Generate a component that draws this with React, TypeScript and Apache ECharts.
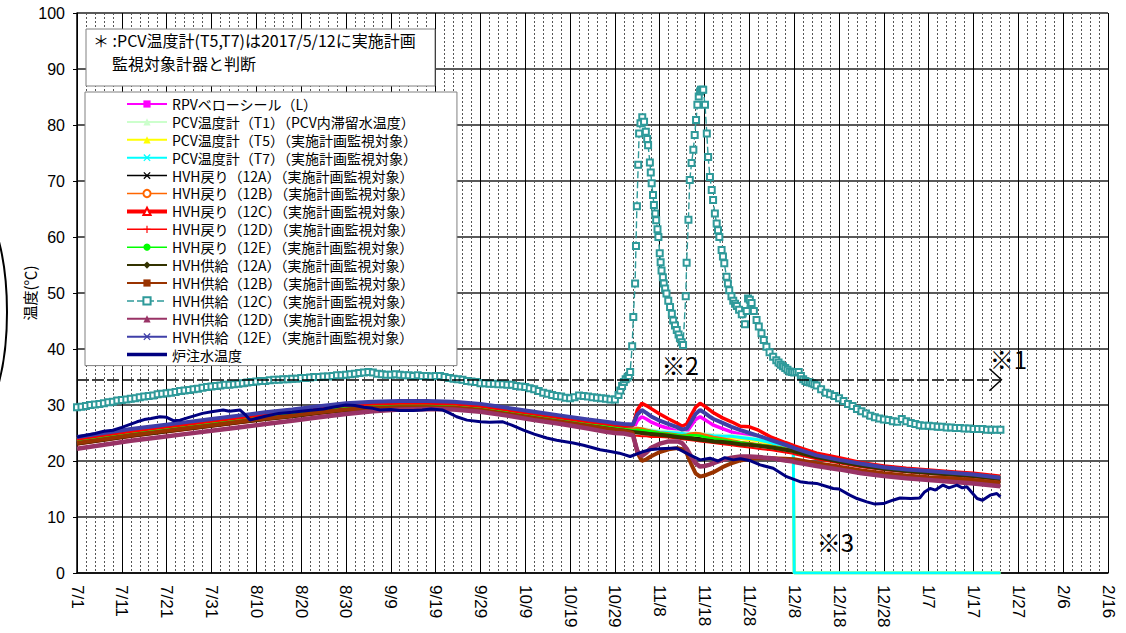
import React, { useEffect, useRef } from "react";
import * as echarts from "echarts";

// x axis = days since 2017/7/1
const dateLabels = ["7/1","7/11","7/21","7/31","8/10","8/20","8/30","9/9","9/19","9/29","10/9","10/19","10/29","11/8","11/18","11/28","12/8","12/18","12/28","1/7","1/17","1/27","2/6","2/16"];
const yTicks = [0, 10, 20, 30, 40, 50, 60, 70, 80, 90, 100];

const days = [0,6,12,18,24,30,36,42,48,54,60,66,72,78,84,90,96,102,108,114,118,120,122,124,125,126,127,128,130,132,134,135,136,137,138,139,140,141,142,144,146,148,150,152,155,158,159.8,160,165,170,175,180,185,190,195,200,206];

const rpvBellows = [23.3,24.0,24.7,25.3,25.9,26.5,27.1,27.7,28.2,28.8,29.3,29.6,29.7,29.7,29.6,29.2,28.5,27.8,27.1,26.4,
  26.0,25.8,25.6,25.5,27.2,27.9,27.5,27.0,
  26.3,25.8,25.3,25.0,25.2,26.3,27.4,27.9,27.4,26.9,
  26.4,25.8,25.2,24.8,24.4,24.0,23.3,22.6,22.2,22.1,
  20.9,20.0,19.2,18.6,18.2,17.9,17.6,17.3,16.8];
const pcvT1 = [24.0,24.7,25.4,26.0,26.6,27.2,27.8,28.4,28.9,29.5,30.0,30.3,30.4,30.4,30.3,29.9,29.2,28.5,27.8,27.1,
  26.7,26.5,26.3,26.0,25.9,25.8,25.7,25.6,
  25.4,25.3,25.2,25.1,25.0,25.0,24.9,24.9,24.8,24.8,
  24.7,24.6,24.6,24.4,24.2,24.0,23.4,22.5,22.0,0,
  0,0,0,0,0,0,0,0,0];
const pcvT5 = [23.6,24.3,25.0,25.6,26.2,26.8,27.4,28.0,28.5,29.1,29.6,29.9,30.0,30.0,29.9,29.5,28.8,28.1,27.4,26.7,
  26.3,26.1,25.9,25.6,25.5,25.4,25.3,25.2,
  25.0,24.9,24.8,24.7,24.6,24.6,24.5,24.5,24.4,24.4,
  24.3,24.2,24.2,24.0,23.8,23.6,23.0,22.1,21.6,0,
  0,0,0,0,0,0,0,0,0];
const pcvT7 = [23.8,24.5,25.2,25.8,26.4,27.0,27.6,28.2,28.7,29.3,29.8,30.1,30.2,30.2,30.1,29.7,29.0,28.3,27.6,26.9,
  26.5,26.3,26.1,25.8,25.7,25.6,25.5,25.4,
  25.2,25.1,25.0,24.9,24.8,24.8,24.7,24.7,24.6,24.6,
  24.5,24.4,24.4,24.2,24.0,23.8,23.2,22.3,21.8,0,
  0,0,0,0,0,0,0,0,0];
const hvhRet12A = [23.3,24.0,24.7,25.3,25.9,26.5,27.1,27.7,28.2,28.8,29.3,29.6,29.7,29.7,29.6,29.2,28.5,27.8,27.1,26.4,
  26.0,25.8,25.6,25.4,25.3,25.2,25.1,25.0,
  24.9,24.7,24.5,24.4,24.3,24.2,24.1,24.0,23.9,23.8,
  23.7,23.6,23.4,23.2,23.1,22.9,22.6,22.2,22.0,21.9,
  20.9,20.1,19.4,18.8,18.4,18.1,17.8,17.5,17.0];
const hvhRet12B = [23.5,24.2,24.9,25.5,26.1,26.7,27.3,27.9,28.4,29.0,29.5,29.8,29.9,29.9,29.8,29.4,28.7,28.0,27.3,26.6,
  26.2,26.0,25.8,25.7,25.9,25.8,25.6,25.4,
  25.1,24.9,24.7,24.6,24.7,24.9,25.0,24.9,24.7,24.5,
  24.3,24.0,23.7,23.4,23.2,23.0,22.7,22.3,22.1,22.0,
  21.0,20.2,19.5,18.9,18.5,18.2,17.9,17.6,17.1];
const hvhRet12C = [23.9,24.6,25.3,25.9,26.5,27.1,27.7,28.3,28.8,29.4,29.9,30.2,30.3,30.3,30.2,29.8,29.1,28.4,27.7,27.0,
  26.6,26.4,26.2,26.3,29.1,30.3,29.9,29.4,
  28.4,27.5,26.7,26.2,26.6,28.2,29.6,30.3,29.8,29.2,
  28.6,27.7,27.0,26.2,26.1,25.5,24.2,23.3,22.8,22.7,
  21.4,20.6,19.7,19.1,18.7,18.4,18.1,17.8,17.3];
const hvhRet12D = [22.9,23.6,24.3,24.9,25.5,26.1,26.7,27.3,27.8,28.4,28.9,29.2,29.3,29.3,29.2,28.8,28.1,27.4,26.7,26.0,
  25.5,25.2,24.9,24.5,24.5,24.4,24.4,24.3,
  24.3,24.2,24.0,23.9,23.8,23.7,23.6,23.5,23.4,23.3,
  23.2,23.0,22.8,22.6,22.4,22.2,21.9,21.5,21.3,21.2,
  20.3,19.6,18.9,18.4,18.0,17.7,17.4,17.1,16.6];
const hvhRet12E = [23.4,24.1,24.8,25.4,26.0,26.6,27.2,27.8,28.3,28.9,29.4,29.7,29.8,29.8,29.7,29.3,28.6,27.9,27.2,26.5,
  26.1,25.9,25.7,25.5,25.6,25.5,25.4,25.3,
  25.0,24.8,24.6,24.5,24.5,24.6,24.6,24.5,24.3,24.1,
  24.0,23.8,23.5,23.3,23.1,22.9,22.6,22.2,22.0,21.9,
  21.0,20.2,19.5,18.9,18.5,18.2,17.9,17.6,17.1];
const hvhSup12A = [23.1,23.8,24.5,25.1,25.7,26.3,26.9,27.5,28.0,28.6,29.1,29.4,29.5,29.5,29.4,29.0,28.3,27.6,26.9,26.2,
  25.8,25.6,25.4,25.2,25.1,25.0,24.9,24.8,
  24.7,24.5,24.3,24.2,24.1,24.0,23.9,23.8,23.7,23.6,
  23.5,23.4,23.2,23.0,22.9,22.7,22.4,22.0,21.8,21.7,
  20.7,19.9,19.2,18.6,18.2,17.9,17.6,17.3,16.8];
const hvhSup12B = [23.2,23.9,24.6,25.2,25.8,26.4,27.0,27.6,28.1,28.7,29.2,29.5,29.6,29.6,29.5,29.1,28.4,27.7,27.0,26.3,
  25.8,25.6,25.4,25.0,21.5,20.0,20.3,20.8,
  21.6,22.1,22.3,22.1,21.4,19.5,17.8,17.2,17.4,17.7,
  18.0,18.9,19.6,20.1,20.4,20.5,20.5,20.4,20.3,20.3,
  19.6,19.0,18.3,17.8,17.4,17.1,16.9,16.6,16.1];
const hvhSup12D = [22.2,22.9,23.6,24.2,24.8,25.4,26.0,26.6,27.2,27.8,28.4,28.9,29.2,29.3,29.2,28.8,28.1,27.3,26.6,25.8,
  25.2,25.0,24.9,24.6,21.8,20.9,21.5,22.3,
  23.1,23.5,23.5,23.2,22.2,20.8,19.6,19.0,19.1,19.3,
  19.6,20.2,20.6,20.8,20.8,20.7,20.5,20.1,19.9,19.8,
  19.1,18.5,17.8,17.3,16.9,16.6,16.3,16.0,15.5];
const hvhSup12E = [24.3,25.0,25.7,26.3,26.9,27.5,28.1,28.7,29.2,29.8,30.3,30.6,30.7,30.7,30.6,30.2,29.5,28.8,28.1,27.4,
  27.0,26.8,26.6,26.5,28.3,29.1,28.6,28.0,
  27.2,26.6,26.0,25.6,25.8,27.0,28.4,29.1,28.6,28.0,
  27.5,26.8,26.1,25.5,25.0,24.5,23.7,22.9,22.4,22.3,
  21.0,20.2,19.5,18.9,18.5,18.2,17.9,17.6,17.0];

// HVH供給(12C): [day, value]
const hvhSup12C: number[][] = [
  [0,29.6],[1,29.7],[2,29.8],[3,30.0],[4,30.1],[5,30.2],[6,30.3],[7,30.5],[8,30.6],[9,30.8],
  [10,30.9],[11,31.0],[12,31.1],[13,31.2],[14,31.4],[15,31.5],[16,31.6],[17,31.7],[18,31.9],[19,32.0],
  [20,32.1],[21,32.2],[22,32.3],[23,32.5],[24,32.6],[25,32.7],[26,32.8],[27,32.9],[28,33.1],[29,33.2],
  [30,33.3],[31,33.4],[32,33.5],[33,33.6],[34,33.6],[35,33.7],[36,33.8],[37,33.9],[38,34.0],[39,34.1],
  [40,34.2],[41,34.3],[42,34.3],[43,34.4],[44,34.5],[45,34.5],[46,34.6],[47,34.6],[48,34.7],[49,34.7],
  [50,34.8],[51,34.8],[52,34.9],[53,35.0],[54,35.0],[55,35.1],[56,35.1],[57,35.2],[58,35.3],[59,35.3],
  [60,35.4],[61,35.5],[62,35.6],[63,35.7],[64,35.8],[65,35.9],[66,35.8],[67,35.6],[68,35.5],[69,35.4],
  [70,35.4],[71,35.5],[72,35.4],[73,35.3],[74,35.3],[75,35.2],[76,35.3],[77,35.2],[78,35.2],[79,35.1],
  [80,35.2],[81,35.2],[82,35.0],[83,34.8],[84,34.7],[85,34.6],[86,34.5],[87,34.3],[88,34.2],[89,34.1],
  [90,33.9],[91,33.9],[92,33.8],[93,33.8],[94,33.7],[95,33.7],[96,33.6],[97,33.6],[98,33.4],[99,33.3],
  [100,33.2],[101,33.0],[102,32.8],[103,32.5],[104,32.2],[105,32.0],[106,31.8],[107,31.6],[108,31.5],[109,31.3],
  [110,31.2],[111,31.4],[112,31.7],[113,31.6],[114,31.5],[115,31.4],[116,31.3],[117,31.2],[118,31.1],[119,31.0],
  [120,31.0],[120.8,31.8],[121.2,32.6],[121.6,33.4],[122,34.1],[122.4,34.6],[122.8,34.9],[123.1,35.2],[123.4,35.9],
  [123.85,40.5],[124.1,45.7],[124.5,51.7],[124.7,58.4],[124.9,65.5],[125.2,72.9],[125.4,78.5],[125.7,80.3],[126.1,81.4],
  [126.5,80.6],[126.9,78.8],[127.2,77.5],[127.4,76.4],[127.8,73.3],[128.0,71.5],[128.2,69.6],[128.5,67.5],[128.7,65.7],[129.0,64.2],[129.2,63.0],[129.5,61.4],[129.7,60.0],[130,57.1],
  [130.2,55.5],[130.4,54.0],[130.7,52.8],[130.9,51.7],[131.2,50.8],[131.5,49.9],[131.9,48.6],[132.3,47.5],[132.7,46.3],[133,45.1],[133.4,44.2],[133.8,43.4],[134.2,42.6],[134.5,41.9],[134.9,41.2],[135.2,40.7],
  [135.8,49.4],[136,55.4],[136.4,63.1],[136.7,70.2],[137.1,73.2],[137.5,75.6],[137.8,78.2],[138.1,80.9],[138.4,83.6],
  [138.7,85.1],[139.0,86.0],[139.2,86.3],[139.5,86.3],[139.7,86.3],[140.1,83.6],[140.5,78.5],[140.8,74.3],[141.2,70.7],[141.6,68.4],[141.9,66.6],
  [142.3,64.2],[142.7,62.4],[143.0,61.2],[143.3,60.0],[143.8,57.7],[144.1,56.5],[144.4,55.3],[144.9,52.9],[145.2,51.7],[145.5,50.5],[146.0,49.4],[146.4,48.6],[146.8,48.1],[147.2,47.7],[147.7,47.0],
  [148.3,46.2],[149,44.4],[149.4,46.8],[149.7,49.0],[150.1,48.8],[150.5,48.2],[151.0,46.8],[151.6,45.2],[152.1,44.0],[152.7,42.8],[153.2,41.6],[153.8,40.4],[154.5,39.4],[155.3,38.6],
  [156,38.0],[156.5,37.6],[157,37.2],[157.5,36.9],[158,36.6],[158.5,36.3],[159,36.0],[159.5,35.9],[160,35.8],[160.5,35.9],[161,35.9],[161.5,35.2],[162,34.6],[162.5,34.3],[163,34.1],[163.5,34.0],[164,33.9],[164.5,33.7],[165,33.5],
  [166,32.8],[167,32.2],[168,31.9],[169,31.6],[170,31.2],[171,30.7],[172,30.2],[173,29.8],[174,29.3],[175,28.9],
  [176,28.5],[177,28.1],[178,27.8],[179,27.6],[180,27.4],[181,27.3],[182,27.1],[183,27.0],[184,27.5],[185,27.1],
  [186,26.8],[187,26.6],[188,26.4],[189,26.3],[190,26.3],[191,26.2],[192,26.1],[193,26.1],[194,26.0],[195,26.0],
  [196,25.9],[197,25.9],[198,25.8],[199,25.8],[200,25.7],[201,25.7],[202,25.7],[203,25.6],[204,25.6],[205,25.6],[206,25.6]
];

// 炉注水温度: [day, value]
const injectionWater: number[][] = [
  [0,24.3],[2,24.6],[4,24.9],[6,25.3],[8,25.5],[10,26.0],[12,26.6],[13.4,27.0],[15,27.4],[16.5,27.6],
  [18.5,27.9],[20,27.8],[21.5,27.2],[23,27.3],[25,27.8],[28,28.5],[30,28.8],[32.6,29.1],[34,28.9],[36.4,29.1],
  [37.5,28.3],[38.6,27.3],[40,27.6],[42,28.0],[45,28.5],[48,28.7],[50,28.9],[52.7,29.1],[55,29.3],[57,29.6],
  [60,30.0],[62,29.9],[64,29.6],[66,29.4],[67.6,29.1],[70,29.2],[72,29.0],[75,29.0],[77,29.1],[79,29.3],
  [81.6,29.1],[83,28.6],[84.7,27.9],[87,27.3],[90,27.0],[92,26.9],[95,27.0],[97,26.4],[99.6,25.5],[102,24.8],
  [104.8,24.1],[107,23.7],[110.7,23.2],[113,22.8],[116.7,22.0],[119,21.7],[121,21.4],[123.4,20.8],[126,21.6],[127.8,22.0],
  [130,22.2],[133.8,22.3],[136.7,21.1],[139,20.2],[141.2,20.5],[143,20.0],[144.5,20.6],[146.4,20.2],[148,20.4],[150,20.1],
  [152.4,19.3],[155.3,18.7],[158.3,17.2],[161.3,16.3],[163,16.1],[165,16.0],[168.7,15.1],[170,15.0],[172.4,13.9],[174,13.3],
  [176.2,12.7],[178,12.3],[179.9,12.4],[182,13.0],[183.6,13.4],[186,13.3],[188,13.4],[189,14.4],[190.3,15.1],[191.5,14.8],
  [193.2,15.7],[194.5,15.2],[196.3,15.7],[197.5,15.2],[198.5,15.4],[200.8,13.3],[202,13.0],[203.7,13.9],[205.2,14.2],[206,13.6]
];

// ※1 reference level
const refLevel = 34.5;
const refEndDay = 206;

const annotations = [
  { label: "※1", day: 203.6, value: 40.4 },
  { label: "※2", day: 130.4, value: 39.4 },
  { label: "※3", day: 165.0, value: 7.8 },
];

const X_SYM = "path://M0,1.2 L1.2,0 L5,3.8 L8.8,0 L10,1.2 L6.2,5 L10,8.8 L8.8,10 L5,6.2 L1.2,10 L0,8.8 L3.8,5 Z";
const PLUS_SYM = "path://M4.2,0 L5.8,0 L5.8,4.2 L10,4.2 L10,5.8 L5.8,5.8 L5.8,10 L4.2,10 L4.2,5.8 L0,5.8 L0,4.2 L4.2,4.2 Z";

const JP = "'Noto Sans CJK JP', sans-serif";
const NUM = "'Liberation Sans', Arial, sans-serif";

type Def = { name: string; values: number[] | number[][]; color: string; symbol: string; width: number; legendWidth: number; dashed?: boolean; markers?: boolean };

const defs: Def[] = [
  { name: "RPVベローシール（L）", values: rpvBellows, color: "#ff00ff", symbol: "rect", width: 3.5, legendWidth: 2 },
  { name: "PCV温度計（T1）（PCV内滞留水温度）", values: pcvT1, color: "#ccffcc", symbol: "triangle", width: 3, legendWidth: 2 },
  { name: "PCV温度計（T5）（実施計画監視対象）", values: pcvT5, color: "#ffff00", symbol: "triangle", width: 3, legendWidth: 2 },
  { name: "PCV温度計（T7）（実施計画監視対象）", values: pcvT7, color: "#00ffff", symbol: X_SYM, width: 3, legendWidth: 2 },
  { name: "HVH戻り（12A）（実施計画監視対象）", values: hvhRet12A, color: "#000000", symbol: X_SYM, width: 2.5, legendWidth: 1.5 },
  { name: "HVH戻り（12B）（実施計画監視対象）", values: hvhRet12B, color: "#ff6600", symbol: "emptyCircle", width: 2.5, legendWidth: 1.5 },
  { name: "HVH戻り（12C）（実施計画監視対象）", values: hvhRet12C, color: "#ff0000", symbol: "emptyTriangle", width: 3.5, legendWidth: 4 },
  { name: "HVH戻り（12D）（実施計画監視対象）", values: hvhRet12D, color: "#ff0000", symbol: PLUS_SYM, width: 2, legendWidth: 1.5 },
  { name: "HVH戻り（12E）（実施計画監視対象）", values: hvhRet12E, color: "#00ff00", symbol: "circle", width: 2.5, legendWidth: 1.5 },
  { name: "HVH供給（12A）（実施計画監視対象）", values: hvhSup12A, color: "#333300", symbol: "diamond", width: 4, legendWidth: 2 },
  { name: "HVH供給（12B）（実施計画監視対象）", values: hvhSup12B, color: "#993300", symbol: "rect", width: 4, legendWidth: 2 },
  { name: "HVH供給（12C）（実施計画監視対象）", values: hvhSup12C, color: "#2f9a9a", symbol: "emptyRect", width: 1.4, legendWidth: 1.5, dashed: true, markers: true },
  { name: "HVH供給（12D）（実施計画監視対象）", values: hvhSup12D, color: "#993366", symbol: "triangle", width: 4.5, legendWidth: 2 },
  { name: "HVH供給（12E）（実施計画監視対象）", values: hvhSup12E, color: "#3f3fa8", symbol: X_SYM, width: 4, legendWidth: 2 },
  { name: "炉注水温度", values: injectionWater, color: "#000080", symbol: "circle", width: 3, legendWidth: 3.5 },
];

export default function App() {
  const ref = useRef<HTMLDivElement>(null);
  useEffect(() => {
    if (!ref.current) return;
    const chart = echarts.init(ref.current, null, { renderer: "svg" });

    const series: any[] = defs.map((d, idx) => {
      const data = Array.isArray(d.values[0])
        ? (d.values as number[][]).map((p) => [p[0], p[1]])
        : (d.values as number[]).map((v, i) => [days[i], v]);
      const s: any = {
        name: d.name,
        type: "line",
        data,
        symbol: d.symbol,
        symbolSize: 6,
        showSymbol: !!d.markers,
        showAllSymbol: true,
        silent: true,
        lineStyle: { color: d.color, width: d.width, type: d.dashed ? [7, 3] : "solid" },
        itemStyle: { color: d.color, borderWidth: 1.1 },
        emphasis: { disabled: true },
      };
      if (idx === defs.length - 1) {
        s.markLine = {
          silent: true,
          symbol: ["none", "none"],
          label: { show: false },
          emphasis: { disabled: true },
          lineStyle: { color: "#000", width: 1.5, type: [12, 3] },
          data: [[{ coord: [0, refLevel] }, { coord: [refEndDay, refLevel] }]],
        };
      }
      return s;
    });

    const option: any = {
      animation: false,
      backgroundColor: "#fff",
      grid: { left: 77, right: 18, top: 13, bottom: 60, containLabel: false },
      xAxis: {
        type: "value",
        min: 0,
        max: 230,
        interval: 10,
        axisLine: { show: true, onZero: false, lineStyle: { color: "#000", width: 1.5 } },
        axisTick: { show: false },
        minorTick: { show: false, splitNumber: 5 },
        splitLine: { show: true, lineStyle: { color: "#000", width: 1 } },
        minorSplitLine: { show: true, lineStyle: { color: "#555", width: 1, type: [2, 2] } },
        axisLabel: {
          rotate: -90,
          margin: 12,
          fontSize: 17,
          color: "#000",
          fontFamily: NUM,
          formatter: (v: number) => dateLabels[Math.round(v / 10)] ?? "",
        },
      },
      yAxis: {
        type: "value",
        min: yTicks[0],
        max: yTicks[yTicks.length - 1],
        interval: 10,
        name: "温度(℃)",
        nameLocation: "middle",
        nameRotate: 90,
        nameGap: 40,
        nameMoveOverlap: false,
        nameTextStyle: { fontSize: 15, fontFamily: JP, color: "#000" },
        axisLine: { show: true, lineStyle: { color: "#000", width: 1.5 } },
        axisTick: { show: true, length: 4, lineStyle: { color: "#000" } },
        splitLine: { show: true, lineStyle: { color: "#595959", width: 2 } },
        axisLabel: { fontSize: 16, color: "#000", fontFamily: NUM, margin: 12 },
      },
      legend: {
        orient: "vertical",
        left: 85,
        top: 92,
        itemWidth: 40,
        itemHeight: 9,
        itemGap: 3.9,
        padding: [5, 40, 4, 40],
        backgroundColor: "#fff",
        borderColor: "#808080",
        borderWidth: 1,
        selectedMode: false,
        textStyle: { fontSize: 14, fontFamily: JP, color: "#000" },
        data: defs.map((d, i) => {
          const item: any = { name: d.name, lineStyle: { width: d.legendWidth } };
          if (i === defs.length - 1) item.itemStyle = { opacity: 0 };
          return item;
        }),
        z: 20,
      },
      series,
    };
    chart.setOption(option);

    const tip = chart.convertToPixel({ gridIndex: 0 }, [refEndDay, refLevel]) as number[];
    const annGraphics = annotations.map((a) => {
      const p = chart.convertToPixel({ gridIndex: 0 }, [a.day, a.value]) as number[];
      return {
        type: "text",
        x: p[0],
        y: p[1],
        z: 30,
        silent: true,
        style: { text: a.label, fontSize: 24, fontFamily: JP, fill: "#000", textVerticalAlign: "top" },
      };
    });

    chart.setOption({
      graphic: [
        {
          type: "ellipse",
          shape: { cx: -33, cy: 312, rx: 40, ry: 117 },
          style: { fill: "none", stroke: "#000", lineWidth: 2 },
          silent: true,
          z: 30,
        },
        {
          type: "rect",
          shape: { x: 86, y: 29, width: 349, height: 57 },
          style: { fill: "#fff", stroke: "#808080", lineWidth: 1 },
          silent: true,
          z: 25,
        },
        {
          type: "text",
          x: 93,
          y: 40,
          z: 26,
          silent: true,
          style: { text: "＊ :PCV温度計(T5,T7)は2017/5/12に実施計画", fontSize: 16, lineHeight: 19, fontFamily: JP, fill: "#000", textVerticalAlign: "middle" },
        },
        {
          type: "text",
          x: 112,
          y: 63,
          z: 26,
          silent: true,
          style: { text: "監視対象計器と判断", fontSize: 16, lineHeight: 19, fontFamily: JP, fill: "#000", textVerticalAlign: "middle" },
        },
        {
          type: "polyline",
          shape: { points: [[tip[0] - 11, tip[1] - 11], [tip[0] + 1, tip[1]], [tip[0] - 11, tip[1] + 11]] },
          style: { stroke: "#000", lineWidth: 1.5, fill: "none" },
          silent: true,
          z: 30,
        },
        ...annGraphics,
      ],
    });

    return () => chart.dispose();
  }, []);
  return <div ref={ref} style={{ position: "fixed", left: 0, top: 0, width: 1126, height: 633 }} />;
}
